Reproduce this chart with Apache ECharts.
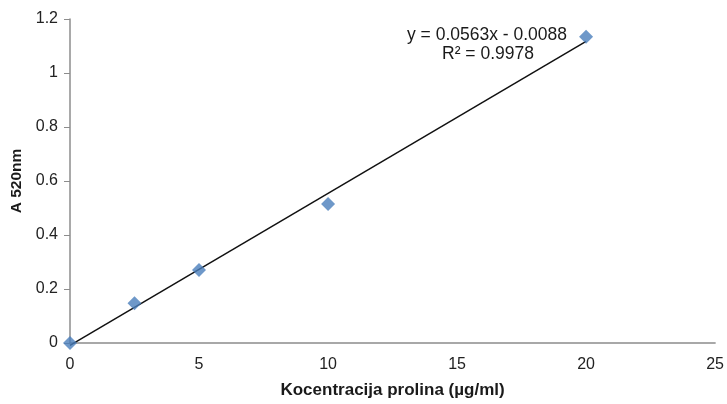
<!DOCTYPE html>
<html><head><meta charset="utf-8">
<script src="https://cdn.jsdelivr.net/npm/echarts@6/dist/echarts.min.js"></script>
<style>html,body{margin:0;padding:0;background:#fff}#c{width:727px;height:404px}</style>
</head><body><div id="c"></div>
<script>
var concX = [0, 2.5, 5, 10, 20];
var absY = [0, 0.147, 0.27, 0.515, 1.134];
var trendX = [0, 20];
var trendY = [-0.0088, 1.1172];
var equationText = 'y = 0.0563x - 0.0088';
var r2Text = 'R² = 0.9978';
var xTitle = 'Kocentracija prolina (µg/ml)';
var yTitle = 'A 520nm';

var font = '"Liberation Sans", Arial, sans-serif';
var chart = echarts.init(document.getElementById('c'), null, {renderer: 'canvas'});
chart.setOption({
  animation: false,
  textStyle: {fontFamily: font},
  grid: {left: 70, right: 11, top: 19, bottom: 61, containLabel: false},
  xAxis: {
    type: 'value', min: 0, max: 25, interval: 5,
    name: xTitle, nameLocation: 'middle', nameGap: 39,
    nameTextStyle: {fontFamily: font, fontSize: 17, fontWeight: 'bold', color: '#1a1a1a'},
    axisLine: {lineStyle: {color: '#8c8c8c', width: 1.5}},
    axisTick: {show: false},
    axisLabel: {fontFamily: font, fontSize: 16, color: '#222', margin: 14},
    splitLine: {show: false}
  },
  yAxis: {
    type: 'value', min: 0, max: 1.2, interval: 0.2,
    name: yTitle, nameLocation: 'middle', nameGap: 43, nameRotate: 90,
    nameTextStyle: {fontFamily: font, fontSize: 15.5, fontWeight: 'bold', color: '#1a1a1a'},
    axisLine: {show: true, lineStyle: {color: '#8c8c8c', width: 1.5}},
    axisTick: {show: true, length: 6, lineStyle: {color: '#8c8c8c'}},
    axisLabel: {fontFamily: font, fontSize: 16, color: '#222', margin: 12,
      formatter: function (v) { return String(Math.round(v * 10) / 10); }},
    splitLine: {show: false}
  },
  series: [
    {
      type: 'line', clip: false, symbol: 'none', silent: true,
      data: trendX.map(function (x, i) { return [x, trendY[i]]; }),
      lineStyle: {color: '#111', width: 1.5},
      z: 2
    },
    {
      type: 'scatter', symbol: 'diamond', symbolSize: 14,
      data: concX.map(function (x, i) { return [x, absY[i]]; }),
      itemStyle: {color: '#4a7ebb'},
      z: 3
    }
  ],
  graphic: [
    {type: 'text', left: 407, top: 26, style: {text: equationText, font: '17.5px ' + font, fill: '#1a1a1a'}},
    {type: 'text', left: 442, top: 45, style: {text: r2Text, font: '17.5px ' + font, fill: '#1a1a1a'}}
  ]
});
</script></body></html>
